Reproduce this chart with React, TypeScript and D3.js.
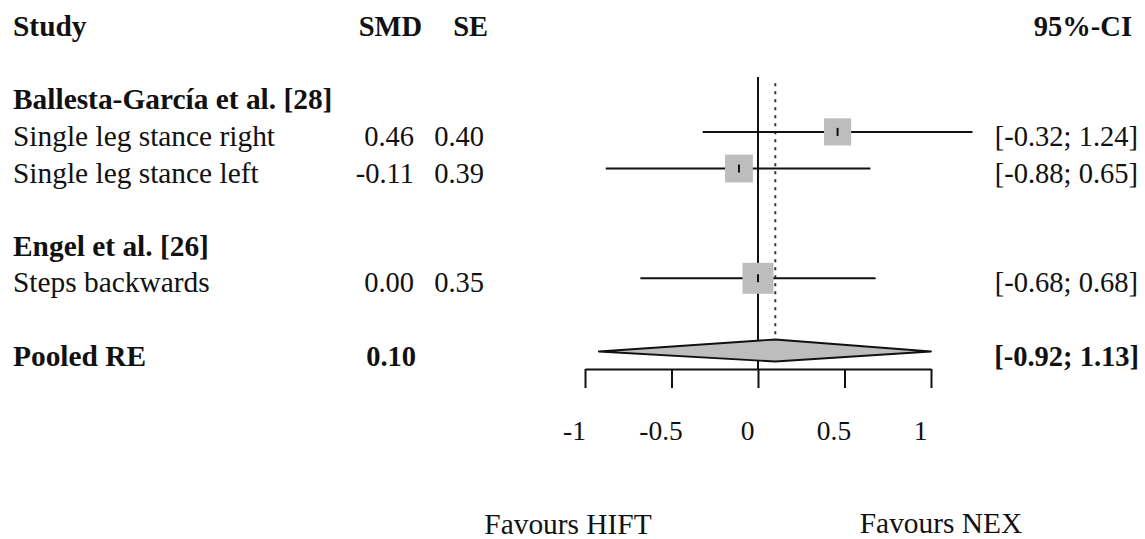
import { useEffect, useRef } from "react";
import * as d3 from "d3";

const groupLabels = ["Ballesta-García et al. [28]", "Engel et al. [26]"];
const studyLabels = ["Single leg stance right", "Single leg stance left", "Steps backwards"];
const smd = [0.46, -0.11, 0.0];
const se = [0.4, 0.39, 0.35];
const lower = [-0.32, -0.88, -0.68];
const upper = [1.24, 0.65, 0.68];
const pooledLabel = "Pooled RE";
const pooled = { est: 0.1, lower: -0.92, upper: 1.13 };
const tickValues = [-1, -0.5, 0, 0.5, 1];
const favourLabels = ["Favours HIFT", "Favours NEX"];

// row layout: group header, studies, blank, ...
const groupRows = [0, 4];
const studyRows = [1, 2, 5];
const pooledRow = 7;

// plain hyphen minus like the R output
const fmt = (v: number) => v.toFixed(2);

function App() {
  const ref = useRef<SVGSVGElement | null>(null);

  useEffect(() => {
    const width = 1145;
    const height = 539;
    const labelSize = 29.4;
    const numSize = 28.5;
    const font = "'Times New Roman', 'Liberation Serif', serif";

    const svg = d3.select(ref.current);
    svg.selectAll("*").remove();
    svg.attr("width", width).attr("height", height);

    const x = d3.scaleLinear().domain([-1, 1]).range([585, 931]);
    const baseline = d3.scaleLinear().domain([0, 7]).range([109.3, 365.5]);
    const markY = (r: number) => baseline(r) - 14;

    const w = se.map((s) => 1 / (s * s));
    const side = d3.scaleSqrt().domain([0, d3.max(w) as number]).range([0, 31]);

    const g = svg.append("g").attr("font-family", font).attr("font-size", numSize).attr("fill", "#111");

    // headers
    const headY = baseline(-2);
    g.append("text").attr("x", 13).attr("y", headY).attr("font-size", labelSize).attr("font-weight", "bold").text("Study");
    g.append("text").attr("x", 422).attr("y", headY).attr("text-anchor", "end").attr("font-weight", "bold").text("SMD");
    g.append("text").attr("x", 488).attr("y", headY).attr("text-anchor", "end").attr("font-weight", "bold").text("SE");
    g.append("text").attr("x", 1132).attr("y", headY).attr("text-anchor", "end").attr("font-weight", "bold").text("95%-CI");

    groupLabels.forEach((lab, i) => {
      g.append("text").attr("x", 13).attr("y", baseline(groupRows[i]))
        .attr("font-size", labelSize).attr("font-weight", "bold").text(lab);
    });

    studyLabels.forEach((lab, i) => {
      const by = baseline(studyRows[i]);
      g.append("text").attr("x", 13).attr("y", by).attr("font-size", labelSize).text(lab);
      g.append("text").attr("x", 414).attr("y", by).attr("text-anchor", "end").text(fmt(smd[i]));
      g.append("text").attr("x", 484).attr("y", by).attr("text-anchor", "end").text(fmt(se[i]));
      g.append("text").attr("x", 1138).attr("y", by).attr("text-anchor", "end")
        .text(`[${fmt(lower[i])}; ${fmt(upper[i])}]`);
    });

    const py = baseline(pooledRow);
    g.append("text").attr("x", 13).attr("y", py).attr("font-size", labelSize).attr("font-weight", "bold").text(pooledLabel);
    g.append("text").attr("x", 416).attr("y", py).attr("text-anchor", "end").attr("font-weight", "bold").text(fmt(pooled.est));
    g.append("text").attr("x", 1139).attr("y", py).attr("text-anchor", "end").attr("font-weight", "bold")
      .text(`[${fmt(pooled.lower)}; ${fmt(pooled.upper)}]`);

    const axisY = markY(pooledRow) + 17.5;

    // zero line
    svg.append("line")
      .attr("x1", x(0)).attr("x2", x(0))
      .attr("y1", markY(-0.5)).attr("y2", axisY)
      .attr("stroke", "#111").attr("stroke-width", 2);

    // pooled estimate dotted line
    svg.append("line")
      .attr("x1", x(pooled.est)).attr("x2", x(pooled.est))
      .attr("y1", markY(-0.33)).attr("y2", markY(pooledRow) - 13)
      .attr("stroke", "#333").attr("stroke-width", 2)
      .attr("stroke-dasharray", "3 5");

    // study CIs and squares
    studyLabels.forEach((_, i) => {
      const cy = markY(studyRows[i]);
      svg.append("line")
        .attr("x1", x(lower[i])).attr("x2", x(upper[i]))
        .attr("y1", cy).attr("y2", cy)
        .attr("stroke", "#111").attr("stroke-width", 2);
      const s = side(w[i]);
      svg.append("rect")
        .attr("x", x(smd[i]) - s / 2).attr("y", cy - s / 2)
        .attr("width", s).attr("height", s)
        .attr("fill", "#bdbdbd");
      svg.append("line")
        .attr("x1", x(smd[i])).attr("x2", x(smd[i]))
        .attr("y1", cy - 4).attr("y2", cy + 4)
        .attr("stroke", "#111").attr("stroke-width", 2);
    });

    // diamond (clipped to axis range)
    const dy = markY(pooledRow);
    const dl = x(Math.max(pooled.lower, -1));
    const dr = x(Math.min(pooled.upper, 1));
    const dc = x(pooled.est);
    const diamond = d3.line()([
      [dl, dy], [dc, dy - 12], [dr, dy], [dc, dy + 10],
    ]);
    svg.append("path")
      .attr("d", diamond + "Z")
      .attr("fill", "#bdbdbd")
      .attr("stroke", "#111")
      .attr("stroke-width", 1.8)
      .attr("stroke-linejoin", "round");

    // axis
    const axis = svg.append("g")
      .attr("transform", `translate(0,${axisY})`)
      .call(
        d3.axisBottom(x)
          .tickValues(tickValues)
          .tickSize(19)
          .tickSizeOuter(0)
          .tickFormat((d) => String(d))
      );
    axis.select(".domain").attr("stroke", "#111").attr("stroke-width", 2);
    axis.selectAll(".tick line").attr("stroke", "#111").attr("stroke-width", 2);
    axis.selectAll(".tick text")
      .attr("font-family", font)
      .attr("font-size", 27.5)
      .attr("fill", "#111")
      .attr("x", -11)
      .attr("dy", null)
      .attr("y", 440 - axisY);

    // favours labels
    g.append("text").attr("x", 568).attr("y", 534).attr("font-size", labelSize)
      .attr("text-anchor", "middle").text(favourLabels[0]);
    g.append("text").attr("x", 941).attr("y", 533).attr("font-size", labelSize)
      .attr("text-anchor", "middle").text(favourLabels[1]);
  }, []);

  return (
    <svg
      ref={ref}
      style={{ position: "absolute", left: 0, top: 0, display: "block", background: "#fff" }}
    />
  );
}

export default App;
